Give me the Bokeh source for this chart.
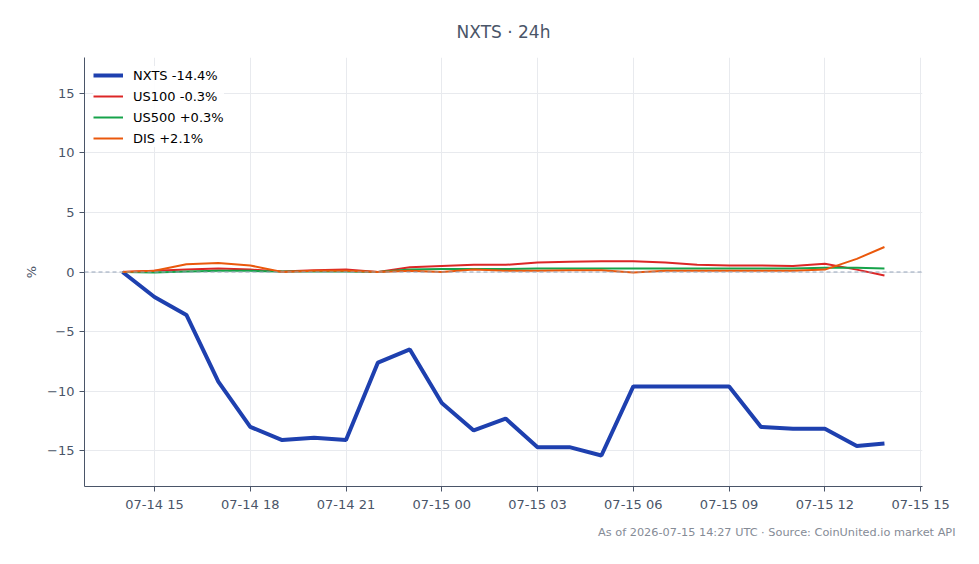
import pandas as pd
from bokeh.plotting import figure
from bokeh.models import (Range1d, FixedTicker, DatetimeTickFormatter, Legend, LegendItem,
                          Span, Title, CustomJSTickFormatter)
from bokeh.embed import file_html
from bokeh.resources import INLINE

times = list(pd.date_range("2026-07-14 14:00", periods=24, freq="h")) + [pd.Timestamp("2026-07-15 13:52")]

nxts = [0.0, -2.1, -3.6, -9.2, -13.0, -14.1, -13.9, -14.1, -7.6, -6.5, -11.0, -13.3, -12.3,
        -14.7, -14.7, -15.4, -9.6, -9.6, -9.6, -9.6, -13.0, -13.15, -13.15, -14.6, -14.4]
us100 = [0.0, 0.1, 0.2, 0.3, 0.2, 0.05, 0.15, 0.2, 0.0, 0.4, 0.5, 0.6, 0.6,
         0.8, 0.85, 0.9, 0.9, 0.8, 0.6, 0.55, 0.55, 0.5, 0.7, 0.2, -0.3]
us500 = [0.0, -0.05, 0.05, 0.1, 0.1, 0.05, 0.05, 0.05, 0.0, 0.2, 0.25, 0.25, 0.25,
         0.3, 0.3, 0.3, 0.3, 0.3, 0.3, 0.3, 0.3, 0.3, 0.35, 0.35, 0.3]
dis = [0.0, 0.1, 0.65, 0.75, 0.55, 0.0, 0.1, 0.1, 0.0, 0.1, 0.0, 0.2, 0.1,
       0.1, 0.15, 0.15, -0.05, 0.1, 0.1, 0.1, 0.1, 0.1, 0.2, 1.1, 2.1]

labels = ["NXTS -14.4%", "US100 -0.3%", "US500 +0.3%", "DIS +2.1%"]
colors = ["#1e40af", "#dc2626", "#16a34a", "#ea580c"]
widths = [4, 2, 2, 2]
y_ticks = [-15, -10, -5, 0, 5, 10, 15]
x_ticks = list(pd.date_range("2026-07-14 15:00", "2026-07-15 15:00", freq="3h"))

FONT = "DejaVu Sans"
TXT = "#4a5568"

p = figure(width=979, height=564, x_axis_type="datetime", output_backend="svg",
           toolbar_location=None,
           x_range=Range1d(pd.Timestamp("2026-07-14 12:48:30"), pd.Timestamp("2026-07-15 15:03:30")),
           y_range=Range1d(-18, 18),
           min_border_left=84, min_border_right=57, min_border_top=57, min_border_bottom=78)
p.outline_line_color = None

p.title.text = "NXTS · 24h"
p.title.align = "center"
p.title.text_font = FONT
p.title.text_font_size = "17px"
p.title.text_font_style = "normal"
p.title.text_color = TXT
p.title.offset = 0
p.title.standoff = 31

zero = Span(location=0, dimension="width", line_color="#94a3b8", line_dash="4 3", line_width=1)
p.add_layout(zero)

renderers = []
for ys, c, w in zip([nxts, us100, us500, dis], colors, widths):
    r = p.line(times, ys, line_color=c, line_width=w)
    renderers.append(r)

legend = Legend(items=[LegendItem(label=l, renderers=[r]) for l, r in zip(labels, renderers)],
                location="top_left")
legend.label_text_font = FONT
legend.label_text_font_size = "13px"
legend.label_text_color = "#000000"
legend.border_line_color = None
legend.background_fill_alpha = 0.9
legend.glyph_width = 30
legend.glyph_height = 18
legend.label_height = 18
legend.label_standoff = 10
legend.spacing = 3
legend.padding = 4
legend.margin = 9
p.add_layout(legend)

p.xaxis.ticker = FixedTicker(ticks=[t.value / 1e6 for t in x_ticks])
p.xaxis.formatter = DatetimeTickFormatter(hours="%m-%d %H", days="%m-%d %H", minutes="%m-%d %H")
p.yaxis.ticker = FixedTicker(ticks=y_ticks)
p.yaxis.formatter = CustomJSTickFormatter(code="return String(tick).replace('-', '\u2212');")
p.yaxis.axis_label = "%"

for ax in [p.xaxis[0], p.yaxis[0]]:
    ax.axis_line_color = TXT
    ax.major_tick_line_color = TXT
    ax.major_tick_out = 5
    ax.major_tick_in = 0
    ax.minor_tick_line_color = None
    ax.major_label_text_font = FONT
    ax.major_label_text_font_size = "13px"
    ax.major_label_text_color = TXT
    ax.axis_label_text_font = FONT
    ax.axis_label_text_font_size = "13px"
    ax.axis_label_text_font_style = "normal"
    ax.axis_label_text_color = TXT

p.grid.grid_line_color = "#e8eaee"

footer = Title(text="As of 2026-07-15 14:27 UTC · Source: CoinUnited.io market API",
               align="right", text_font=FONT, text_font_size="11.3px", text_font_style="normal",
               text_color="#858b96", offset=-33, standoff=18)
p.add_layout(footer, "below")

open("out.html", "w").write(file_html(p, INLINE))
